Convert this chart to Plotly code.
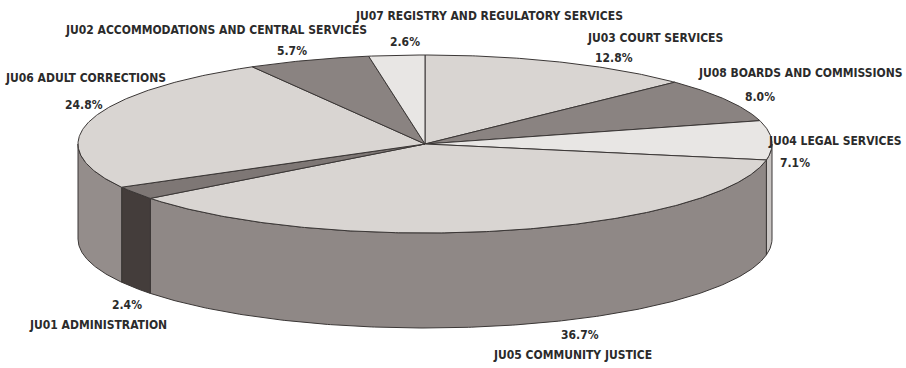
import numpy as np
import plotly.graph_objects as go

# Budget share by program, clockwise from 12 o'clock
programs = [
    "JU03 COURT SERVICES",
    "JU08 BOARDS AND COMMISSIONS",
    "JU04 LEGAL SERVICES",
    "JU05 COMMUNITY JUSTICE",
    "JU01 ADMINISTRATION",
    "JU06 ADULT CORRECTIONS",
    "JU02 ACCOMMODATIONS AND CENTRAL SERVICES",
    "JU07 REGISTRY AND REGULATORY SERVICES",
]
shares = [12.8, 8.0, 7.1, 36.7, 2.4, 24.8, 5.7, 2.6]

# Slice colours (top face / side wall)
top_colors = ["#d9d5d2", "#8a8381", "#e8e6e4", "#d9d5d2",
              "#7e7775", "#d9d5d2", "#8a8381", "#e8e6e4"]
side_colors = ["#8f8886", "#6f6866", "#c9c5c3", "#8f8886",
               "#443d3b", "#948d8b", "#6f6866", "#c9c5c3"]

# Label placement: (name x, name y, pct x, pct y)
label_pos = [
    (655, 38, 614, 58),
    (800, 73, 760, 97),
    (835, 141, 795, 163),
    (572, 355, 580, 335),
    (98, 325, 127, 305),
    (85, 78, 84, 105),
    (216, 30, 292, 51),
    (489, 16, 405, 42),
]

# Pie geometry in page pixels
W, H = 906, 368
CX, CY = 425, 144
RX, RY = 347, 89
DEPTH = 95
EDGE = "#3b3736"


def arc(t1, t2, dy=0.0):
    n = max(int(abs(t2 - t1) * 2) + 2, 3)
    t = np.radians(np.linspace(t1, t2, n))
    return CX + RX * np.sin(t), CY - RY * np.cos(t) + dy


total = sum(shares)
bounds = np.concatenate([[0], np.cumsum(shares) / total * 360.0])

fig = go.Figure()

# Side walls on the front half of the disc
for i in range(len(shares)):
    s1, s2 = max(bounds[i], 90.0), min(bounds[i + 1], 270.0)
    if s1 >= s2:
        continue
    xt, yt = arc(s1, s2)
    xb, yb = arc(s2, s1, DEPTH)
    xs = np.concatenate([xt, xb, xt[:1]])
    ys = np.concatenate([yt, yb, yt[:1]])
    fig.add_trace(go.Scatter(
        x=xs, y=ys, mode="lines", fill="toself",
        fillcolor=side_colors[i], line=dict(color=EDGE, width=1),
        hoverinfo="skip", showlegend=False))

# Top faces
for i in range(len(shares)):
    xa, ya = arc(bounds[i], bounds[i + 1])
    xs = np.concatenate([[CX], xa, [CX]])
    ys = np.concatenate([[CY], ya, [CY]])
    fig.add_trace(go.Scatter(
        x=xs, y=ys, mode="lines", fill="toself",
        fillcolor=top_colors[i], line=dict(color=EDGE, width=1),
        hovertemplate=f"{programs[i]}<br>{shares[i]:.1f}%<extra></extra>",
        showlegend=False))

font = dict(family="DejaVu Sans Condensed, DejaVu Sans, sans-serif",
            size=12, color="#2b2b2b", weight=700)
for name, v, (nx, ny, px, py) in zip(programs, shares, label_pos):
    fig.add_annotation(x=nx, y=ny, text=name, showarrow=False,
                       xanchor="center", yanchor="middle", font=font)
    fig.add_annotation(x=px, y=py, text=f"{v:.1f}%", showarrow=False,
                       xanchor="center", yanchor="middle", font=font)

fig.update_layout(
    width=W, height=H,
    margin=dict(l=0, r=0, t=0, b=0),
    paper_bgcolor="white", plot_bgcolor="white",
    xaxis=dict(range=[0, W], visible=False, fixedrange=True),
    yaxis=dict(range=[H, 0], visible=False, fixedrange=True),
)

fig.write_html("out.html")
